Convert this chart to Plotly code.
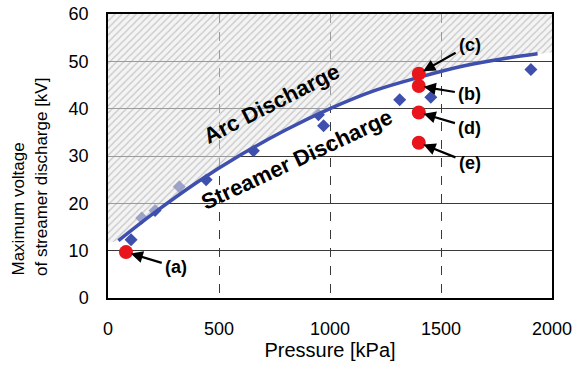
import plotly.graph_objects as go

# Measured diamonds
meas_x = [104, 152, 212, 321, 442, 655, 948, 971, 1314, 1454, 1905]
meas_y = [12.3, 16.9, 18.5, 23.5, 25.0, 31.1, 38.7, 36.4, 41.9, 42.4, 48.3]

# Trend line (boundary between arc and streamer)
curve_x = [47, 200, 400, 600, 800, 1000, 1200, 1400, 1600, 1800, 1935]
curve_y = [12.1, 17.7, 24.4, 30.3, 35.5, 40.0, 43.8, 46.6, 49.0, 50.7, 51.6]

# Hatch boundary extended to axis edges
hatch_x = [0] + curve_x + [2000]
hatch_y = [11.6] + curve_y + [51.9]

# Red highlighted points
red_labels = ["(a)", "(c)", "(b)", "(d)", "(e)"]
red_x = [81, 1400, 1400, 1400, 1400]
red_y = [9.7, 47.4, 44.8, 39.2, 32.8]
label_x = [307, 1630, 1630, 1630, 1630]
label_y = [6.5, 53.5, 43.0, 36.0, 28.5]

x_ticks = [0, 500, 1000, 1500, 2000]
y_ticks = [0, 10, 20, 30, 40, 50, 60]

FONT = "Liberation Sans, Arial, sans-serif"
BLUE = "#3f4fae"

fig = go.Figure()

fig.add_trace(go.Scatter(
    x=meas_x, y=meas_y, mode="markers",
    marker=dict(symbol="diamond", size=10, color=BLUE),
    showlegend=False, hoverinfo="skip"))

poly_x = hatch_x + hatch_x[::-1]
poly_y = hatch_y + [60] * len(hatch_x)
fig.add_trace(go.Scatter(
    x=poly_x, y=poly_y, mode="lines", fill="toself",
    line=dict(width=0, color="rgba(0,0,0,0)"),
    fillcolor="rgba(0,0,0,0)",
    fillpattern=dict(shape="/", fgcolor="#9a9a9a", bgcolor="rgba(235,235,235,0.55)",
                     size=5, solidity=0.25),
    showlegend=False, hoverinfo="skip"))

fig.add_trace(go.Scatter(
    x=curve_x, y=curve_y, mode="lines", line=dict(color=BLUE, width=3.5, shape="spline"),
    showlegend=False, hoverinfo="skip"))

fig.add_trace(go.Scatter(
    x=red_x, y=red_y, mode="markers",
    marker=dict(symbol="circle", size=14, color="#e8161c"),
    showlegend=False, hoverinfo="skip"))

annotations = []
for lab, rx, ry, lx, ly in zip(red_labels, red_x, red_y, label_x, label_y):
    annotations.append(dict(
        x=rx, y=ry, xref="x", yref="y", ax=lx, ay=ly, axref="x", ayref="y",
        text="<b>%s</b>" % lab, font=dict(family=FONT, size=18, color="black"),
        showarrow=True, arrowhead=2, arrowsize=1.1, arrowwidth=2.2,
        arrowcolor="black", standoff=5, startstandoff=2))

annotations.append(dict(
    x=738, y=41.1, xref="x", yref="y", text="<b>Arc Discharge</b>",
    textangle=-27, showarrow=False, font=dict(family=FONT, size=22, color="black")))
annotations.append(dict(
    x=851, y=29.2, xref="x", yref="y", text="<b>Streamer Discharge</b>",
    textangle=-25, showarrow=False, font=dict(family=FONT, size=22, color="black")))

# y-title as two left-aligned rotated lines (screen x center, screen bottom y)
annotations.append(dict(
    x=18, y=278, xref="paper", yref="paper", text="Maximum voltage",
    textangle=-90, showarrow=False, xanchor="center", yanchor="bottom",
    font=dict(family=FONT, size=17, color="black")))
annotations.append(dict(
    x=41, y=278, xref="paper", yref="paper", text="of streamer discharge [kV]",
    textangle=-90, showarrow=False, xanchor="center", yanchor="bottom",
    font=dict(family=FONT, size=17, color="black")))

W, H = 573, 375
L, T, R, B = 108, 14, 21, 77
pw, ph = W - L - R, H - T - B
for a in annotations[-2:]:
    a["x"] = (a["x"] - L) / pw
    a["y"] = (H - B - a["y"]) / ph

fig.update_layout(
    width=W, height=H, margin=dict(l=L, r=R, t=T, b=B, autoexpand=False),
    paper_bgcolor="white", plot_bgcolor="white",
    font=dict(family=FONT, size=18, color="black"),
    annotations=annotations,
    xaxis=dict(range=[0, 2000], tickvals=x_ticks, ticks="", ticklabelstandoff=14,
               automargin=False, ticklabeloverflow="allow",
               showgrid=True, gridcolor="#3a3a3a", griddash="dash", gridwidth=1,
               showline=True, linecolor="black", linewidth=1.5, mirror=True,
               zeroline=False,
               title=dict(text="Pressure [kPa]", font=dict(size=20), standoff=4)),
    yaxis=dict(range=[0, 60], tickvals=y_ticks, ticks="", ticklabelstandoff=14,
               automargin=False, ticklabeloverflow="allow",
               showgrid=True, gridcolor="#3a3a3a", gridwidth=1,
               showline=True, linecolor="black", linewidth=1.5, mirror=True,
               zeroline=False),
)

fig.write_html(
    "out.html",
    config={"displayModeBar": False},
    post_script="document.body.style.margin='0';document.body.style.overflow='hidden';",
)
